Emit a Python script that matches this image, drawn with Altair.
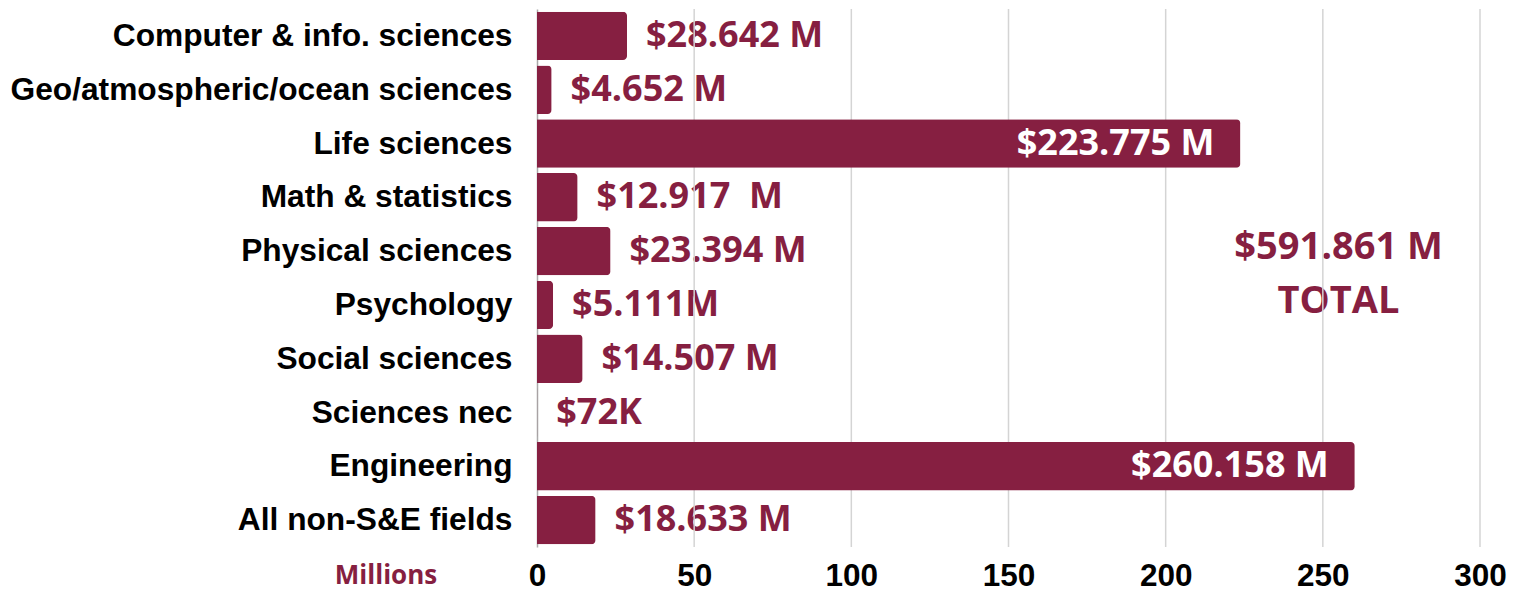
import altair as alt
import pandas as pd

categories = [
    "Computer & info. sciences",
    "Geo/atmospheric/ocean sciences",
    "Life sciences",
    "Math & statistics",
    "Physical sciences",
    "Psychology",
    "Social sciences",
    "Sciences nec",
    "Engineering",
    "All non-S&E fields",
]
values = [28.642, 4.652, 223.775, 12.917, 23.394, 5.111, 14.507, 0.072, 260.158, 18.633]
labels = [
    "$28.642 M", "$4.652 M", "$223.775 M", "$12.917 \u00a0M", "$23.394 M",
    "$5.111M", "$14.507 M", "$72K", "$260.158 M", "$18.633 M",
]
grid_ticks = [50, 100, 150, 200, 250, 300]
total_lines = ["$591.861 M", "TOTAL"]
total_rows = ["Physical sciences", "Psychology"]
total_x = 255

MAROON = "#861F41"
VALUE_FONT = "Open Sans"
CAT_FONT = "Liberation Sans"

df = pd.DataFrame({"category": categories, "value": values, "label": labels})
grid_df = pd.DataFrame({"tick": grid_ticks})
total_df = pd.DataFrame({"category": total_rows, "text": total_lines})

y_scale = alt.Scale(domain=categories, paddingInner=0.1, paddingOuter=0.05)

y_enc = alt.Y(
    "category:N",
    scale=y_scale,
    axis=alt.Axis(
        title=None,
        ticks=False,
        grid=False,
        labelFont=CAT_FONT,
        labelFontWeight="bold",
        labelFontSize=31.7,
        labelColor="#000000",
        labelPadding=25,
        labelLimit=800,
        domain=True,
        domainColor="#aaaaaa",
        domainWidth=1.5,
    ),
)
x_enc = alt.X(
    "value:Q",
    scale=alt.Scale(domain=[0, 300], nice=False),
    axis=alt.Axis(
        title="Millions",
        values=[0, 50, 100, 150, 200, 250, 300],
        ticks=False,
        grid=False,
        domain=False,
        labelFont=CAT_FONT,
        labelFontWeight="bold",
        labelFontSize=31.5,
        labelColor="#000000",
        labelPadding=13,
        labelFlush=False,
        titleFont=VALUE_FONT,
        titleFontWeight="bold",
        titleFontSize=26,
        titleColor=MAROON,
        titleX=-151.5,
        titleY=36.5,
        titleAlign="center",
        titleBaseline="alphabetic",
    ),
)

base = alt.Chart(df)

outside = base.transform_filter("datum.value < 100").mark_text(
    align="left", baseline="middle", dx=19, font=VALUE_FONT, fontWeight="bold",
    fontSize=36, color=MAROON,
).encode(x=x_enc, y=y_enc, text="label:N")

inside = base.transform_filter("datum.value >= 100").mark_text(
    align="right", baseline="middle", dx=-26, font=VALUE_FONT, fontWeight="bold",
    fontSize=36, color="#ffffff",
).encode(x=x_enc, y=y_enc, text="label:N")

total_text = alt.Chart(total_df).mark_text(
    align="center", baseline="middle", dy=-3, font=VALUE_FONT, fontWeight="bold",
    fontSize=38, color=MAROON,
).encode(
    x=alt.datum(total_x),
    y=alt.Y("category:N", scale=y_scale),
    text="text:N",
)

grid = alt.Chart(grid_df).mark_rule(color="#d4d4d4", strokeWidth=1.5).encode(
    x=alt.X("tick:Q")
)

bars = base.mark_bar(color=MAROON, cornerRadiusEnd=4).encode(x=x_enc, y=y_enc)

chart = (
    alt.layer(outside, total_text, grid, bars, inside)
    .properties(
        width=943,
        height=538,
        padding={"left": 2, "top": 0, "right": 5, "bottom": 0},
    )
    .configure_view(stroke=None)
)

chart.save("out.html", embed_options={"renderer": "svg", "actions": False})
